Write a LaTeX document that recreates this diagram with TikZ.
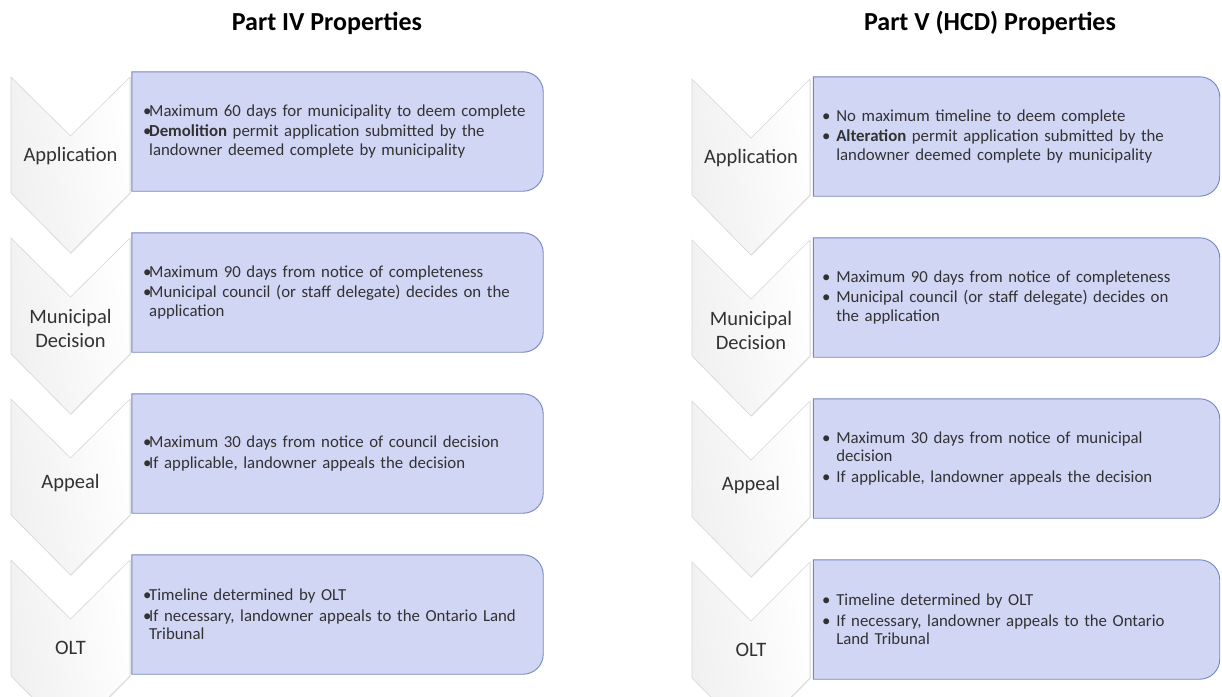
\documentclass[tikz,border=0pt]{standalone}
\usepackage{fontspec}
\setmainfont{Carlito}
\usetikzlibrary{backgrounds,shadows}

\definecolor{boxfill}{RGB}{210,214,245}
\definecolor{boxline}{RGB}{116,136,188}
\definecolor{txt}{RGB}{50,50,50}

\newlength{\bulw}
\newcommand{\bitem}[1]{\hangindent=\bulw\hangafter=1\noindent\makebox[\bulw][l]{\textbullet}#1\par}

\tikzset{
  chev/.style={left color=black!6, right color=white, shading angle=100, draw=black!16, line width=0.6pt,
    drop shadow={opacity=0.16, shadow xshift=0.8pt, shadow yshift=-0.8pt}},
  steplabel/.style={font=\fontsize{20.5}{24}\selectfont, text=txt, align=center, inner sep=0pt},
  infobox/.style={minimum width=#1, minimum height=119pt, inner sep=0pt, text width=389pt,
    align=left, text=txt, font=\fontsize{16.8}{18.5}\selectfont\setlength{\parskip}{2pt}},
  infobox/.default=411pt,
  title/.style={font=\bfseries\fontsize{26}{30}\selectfont, inner sep=0pt},
  box/.style={fill=boxfill, draw=boxline, line width=0.9pt}
}

\begin{document}
\begin{tikzpicture}[x=1pt,y=-1pt]
\useasboundingbox (0,0) rectangle (1222,696);
\clip (0,0) rectangle (1222,696);

\node[title] (t4) at (327,23) {Part IV Properties};
\node[title] (t5) at (990,23) {Part V (HCD) Properties};

\foreach \y in {77,238,399,560}{
  \path[chev] (11,\y) -- (70.5,\y+59) -- (130,\y) -- (130,\y+116) -- (70.5,\y+176) -- (11,\y+116) -- cycle;
  \path[chev] (692,\y+2) -- (751,\y+61) -- (810,\y+2) -- (810,\y+118) -- (751,\y+178) -- (692,\y+118) -- cycle;
}

\node[steplabel] (c1) at (70.5,156) {Application};
\node[steplabel] (c2) at (70.5,328) {Municipal\\Decision};
\node[steplabel] (c3) at (70.5,483) {Appeal};
\node[steplabel] (c4) at (70.5,648) {OLT};
\node[steplabel] (d1) at (751,158) {Application};
\node[steplabel] (d2) at (751,330) {Municipal\\Decision};
\node[steplabel] (d3) at (751,485) {Appeal};
\node[steplabel] (d4) at (751,650) {OLT};

\setlength{\bulw}{0.62em}
\node[infobox] (a1) at (337.5,131.5) {\bitem{Maximum 60 days for municipality to deem complete}
  \bitem{\textbf{Demolition} permit application submitted by the\newline landowner deemed complete by municipality}};
\node[infobox] (a2) at (337.5,292.5) {\bitem{Maximum 90 days from notice of completeness}
  \bitem{Municipal council (or staff delegate) decides on the\newline application}};
\node[infobox] (a3) at (337.5,453.5) {\bitem{Maximum 30 days from notice of council decision}
  \bitem{If applicable, landowner appeals the decision}};
\node[infobox] (a4) at (337.5,614.5) {\bitem{Timeline determined by OLT}
  \bitem{If necessary, landowner appeals to the Ontario Land\newline Tribunal}};

\node[infobox=406pt] (b1) at (1016.5,136.5) {\setlength{\bulw}{0.85em}\bitem{No maximum timeline to deem complete}
  \bitem{\textbf{Alteration} permit application submitted by the\newline landowner deemed complete by municipality}};
\node[infobox=406pt] (b2) at (1016.5,297.5) {\setlength{\bulw}{0.85em}\bitem{Maximum 90 days from notice of completeness}
  \bitem{Municipal council (or staff delegate) decides on\newline the application}};
\node[infobox=406pt] (b3) at (1016.5,458.5) {\setlength{\bulw}{0.85em}\bitem{Maximum 30 days from notice of municipal\newline decision}
  \bitem{If applicable, landowner appeals the decision}};
\node[infobox=406pt] (b4) at (1016.5,619.5) {\setlength{\bulw}{0.85em}\bitem{Timeline determined by OLT}
  \bitem{If necessary, landowner appeals to the Ontario\newline Land Tribunal}};

\begin{scope}[on background layer]
\foreach \b in {a1,a2,a3,a4,b1,b2,b3,b4}
  \draw[box] (\b.south west) -- (\b.north west) [rounded corners=20pt] -- (\b.north east) -- (\b.south east) [sharp corners] -- cycle;
\end{scope}
\end{tikzpicture}
\end{document}
